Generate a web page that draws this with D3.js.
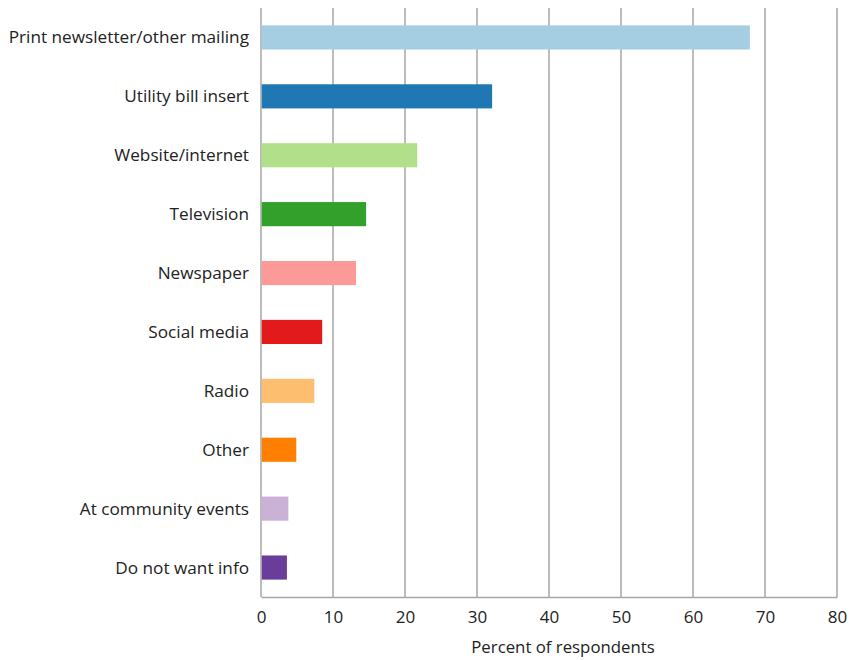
<!DOCTYPE html>
<html>
<head>
<meta charset="utf-8">
<script src="https://cdn.jsdelivr.net/npm/d3@7"></script>
<style>
  html, body { margin: 0; padding: 0; background: #fff; overflow: hidden; }
  svg { display: block; font-family: "Open Sans", "DejaVu Sans", sans-serif; }
</style>
</head>
<body>
<svg id="chart"></svg>
<script>
// Data
const categories = [
  'Print newsletter/other mailing',
  'Utility bill insert',
  'Website/internet',
  'Television',
  'Newspaper',
  'Social media',
  'Radio',
  'Other',
  'At community events',
  'Do not want info'
];
const values = [67.9, 32.1, 21.7, 14.6, 13.2, 8.5, 7.4, 4.9, 3.8, 3.6];
const xTicks = [0, 10, 20, 30, 40, 50, 60, 70, 80];
const axisTitle = 'Percent of respondents';

const width = 856, height = 660;
const margin = { top: 8, right: 19, bottom: 63, left: 261 };
const innerWidth = width - margin.left - margin.right;
const innerHeight = height - margin.top - margin.bottom;

const svg = d3.select('#chart')
  .attr('width', width)
  .attr('height', height)
  .attr('viewBox', `0 0 ${width} ${height}`);

const g = svg.append('g').attr('transform', `translate(${margin.left}, ${margin.top})`);

const xScale = d3.scaleLinear().domain([0, 80]).range([0, innerWidth]);
const yScale = d3.scaleBand()
  .domain(categories)
  .range([0, innerHeight])
  .paddingInner(0.59)
  .paddingOuter(0.295);
const color = d3.scaleOrdinal().domain(categories).range(d3.schemePaired);

const gridColor = '#a6a6a6';

// Vertical gridlines (the 0 one doubles as the y axis line)
g.selectAll('line.grid')
  .data(xTicks)
  .join('line')
  .attr('class', 'grid')
  .attr('x1', d => xScale(d))
  .attr('x2', d => xScale(d))
  .attr('y1', 0)
  .attr('y2', innerHeight)
  .attr('stroke', gridColor)
  .attr('stroke-width', 1.5);

// X axis
const xAxis = g.append('g')
  .attr('transform', `translate(0, ${innerHeight})`)
  .call(d3.axisBottom(xScale).tickValues(xTicks).tickSize(0).tickPadding(14));
xAxis.select('.domain').attr('stroke', gridColor).attr('stroke-width', 1.5);
xAxis.selectAll('text')
  .attr('font-size', '17px')
  .attr('font-family', '"Open Sans", sans-serif')
  .attr('fill', '#222');

// Bars
g.selectAll('rect.bar')
  .data(categories)
  .join('rect')
  .attr('class', 'bar')
  .attr('x', xScale(0) + 0.75)
  .attr('y', d => yScale(d))
  .attr('width', (d, i) => xScale(values[i]) - xScale(0) - 0.75)
  .attr('height', yScale.bandwidth())
  .attr('fill', d => color(d));

// Category labels
g.selectAll('text.cat')
  .data(categories)
  .join('text')
  .attr('class', 'cat')
  .attr('x', -12)
  .attr('y', d => yScale(d) + yScale.bandwidth() / 2)
  .attr('dy', '0.35em')
  .attr('text-anchor', 'end')
  .attr('font-size', '17.2px')
  .attr('fill', '#222')
  .text(d => d);

// Axis title
svg.append('text')
  .attr('x', 563)
  .attr('y', 653)
  .attr('text-anchor', 'middle')
  .attr('font-size', '16.8px')
  .attr('fill', '#222')
  .text(axisTitle);
</script>
</body>
</html>
